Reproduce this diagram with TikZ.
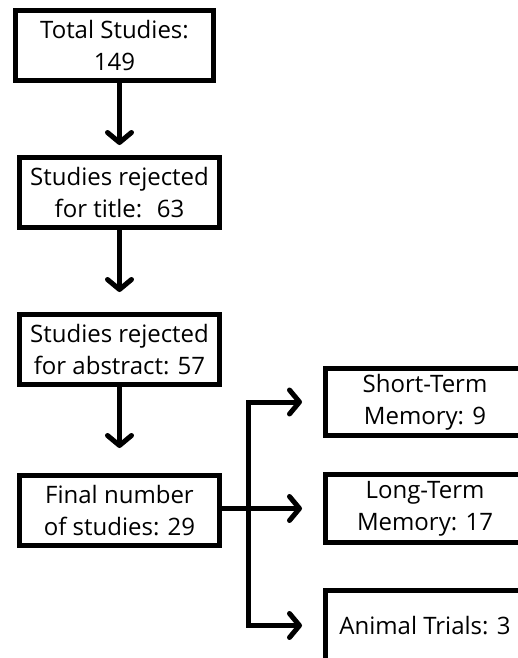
\documentclass[tikz,border=0pt]{standalone}
\usepackage{fontspec}
\setmainfont{Open Sans}
\usetikzlibrary{arrows.meta}
\begin{document}
\begin{tikzpicture}[x=1pt,y=-1pt,line join=miter,>={Straight Barb[length=10pt,width=24pt,round]}]
	\tikzset{box/.style={draw,line width=5pt,align=center,inner sep=0pt,minimum width=200pt,minimum height=70pt,font=\fontsize{24}{32}\selectfont},
		link/.style={line width=5pt}}
	\useasboundingbox (0,0) rectangle (518,658);
	\clip (0,0) rectangle (518,658);
	\node[box,minimum width=198pt] (tot) at (114.5,45.5) {Total Studies:\\149};
	\node[box] (rej1) at (119.5,192.5) {Studies rejected\\for title:~ 63};
	\node[box] (rej2) at (119.5,349.5) {Studies rejected\\ for abstract: 57};
	\node[box] (fin) at (119.5,510.5) {Final number\\of studies: 29};
	\node[box,minimum width=199pt,minimum height=67pt] (sto) at (425,402) {Short-Term\\Memory: 9};
	\node[box,minimum width=199pt,minimum height=68pt] (lto) at (425,508.5) {Long-Term\\Memory: 17};
	\node[box,minimum width=199pt] (ani) at (425,625.5) {Animal Trials: 3};
	\coordinate (split) at (248,508.5);
	\draw[link,->,shorten >=10pt] (rej1.north |- tot.south) -- (rej1.north);
	\draw[link,->,shorten >=20pt] (rej1.south) -- (rej2.north);
	\draw[link,->,shorten >=25pt] (rej2.south) -- (fin.north);
	\draw[link] (fin.east |- split) -- (split);
	\draw[link,->,shorten >=21pt] (split) |- (sto.west);
	\draw[link,->,shorten >=21pt] (split) -- (lto.west);
	\draw[link,->,shorten >=21pt] (split) |- (ani.west);
\end{tikzpicture}
\end{document}
